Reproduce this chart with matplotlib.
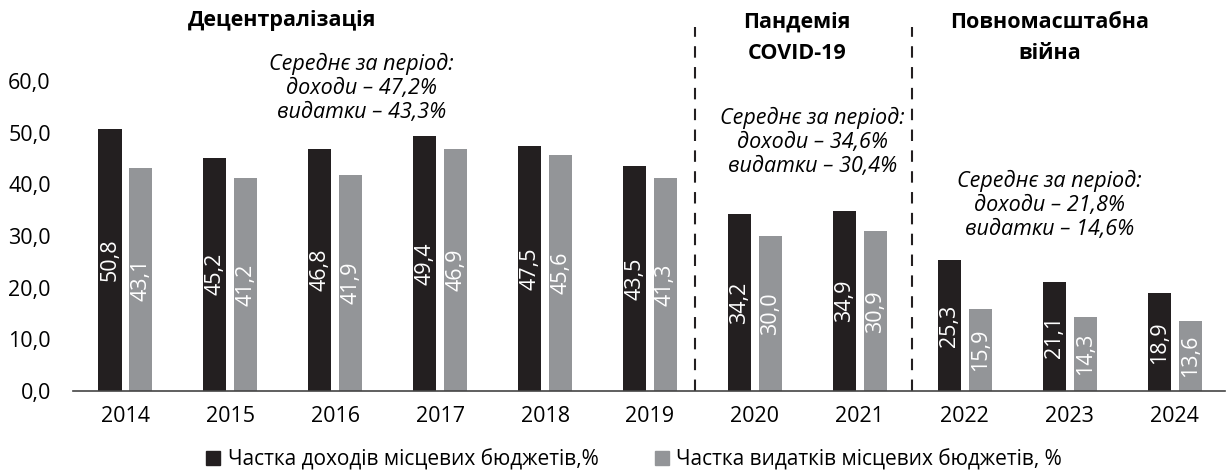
import numpy as np
import matplotlib.pyplot as plt
from matplotlib.lines import Line2D

plt.rcParams['font.family'] = ['Open Sans', 'DejaVu Sans']

years = ['2014', '2015', '2016', '2017', '2018', '2019', '2020', '2021', '2022', '2023', '2024']
revenue = [50.8, 45.2, 46.8, 49.4, 47.5, 43.5, 34.2, 34.9, 25.3, 21.1, 18.9]
spending = [43.1, 41.2, 41.9, 46.9, 45.6, 41.3, 30.0, 30.9, 15.9, 14.3, 13.6]
yticks = [0, 10, 20, 30, 40, 50, 60]

rev_name = 'Частка доходів місцевих бюджетів,%'
sp_name = 'Частка видатків місцевих бюджетів, %'
black = '#231f20'
grey = '#939598'
fs = 15.5

fig = plt.figure(figsize=(12.29, 4.72), dpi=100)
ax = fig.add_axes([73/1229, 1 - 391/472, (1225-73)/1229, 391/472])

x = np.arange(len(years))
w = 0.22
off = 0.147
b1 = ax.bar(x - off, revenue, w, color=black)
b2 = ax.bar(x + off, spending, w, color=grey)

for bars, vals in ((b1, revenue), (b2, spending)):
    for b, v in zip(bars, vals):
        ax.text(b.get_x() + b.get_width()/2, v/2, f'{v:.1f}'.replace('.', ','),
                rotation=90, ha='center', va='center', color='white', fontsize=fs)

ax.set_xlim(-0.5, 10.48)
ax.set_ylim(0, 75.7)
ax.set_xticks(x)
ax.set_xticklabels(years, fontsize=fs)
ax.set_yticks(yticks)
ax.set_yticklabels([f'{t:.1f}'.replace('.', ',') for t in yticks], fontsize=fs)
ax.tick_params(length=0)
ax.tick_params(axis='x', pad=11)
ax.tick_params(axis='y', pad=16)
for s in ['top', 'right', 'left']:
    ax.spines[s].set_visible(False)
ax.spines['bottom'].set_color('#444444')
ax.spines['bottom'].set_linewidth(1.2)

# period separators
for xv in (5.43, 7.5):
    ax.plot([xv, xv], [0, 70.5], ls=(0, (5.5, 4.5)), color=black, lw=1.5, clip_on=False)

# period titles
ax.text(1.49, 71.8, 'Децентралізація', ha='center', va='center', fontsize=fs, fontweight='bold')
ax.text(2.25, 58.7, 'Середнє за період:\nдоходи – 47,2%\nвидатки – 43,3%', ha='center', va='center',
        fontsize=fs, style='italic', linespacing=1.2)
ax.text(6.4, 68.4, 'Пандемія\nCOVID-19', ha='center', va='center', fontsize=fs,
        fontweight='bold', linespacing=1.6)
ax.text(6.55, 48.2, 'Середнє за період:\nдоходи – 34,6%\nвидатки – 30,4%', ha='center', va='center',
        fontsize=fs, style='italic', linespacing=1.2)
ax.text(8.81, 68.4, 'Повномасштабна\nвійна', ha='center', va='center', fontsize=fs,
        fontweight='bold', linespacing=1.6)
ax.text(8.81, 36.0, 'Середнє за період:\nдоходи – 21,8%\nвидатки – 14,6%', ha='center', va='center',
        fontsize=fs, style='italic', linespacing=1.2)

handles = [Line2D([], [], marker='s', ls='', color=black, markersize=9.5),
           Line2D([], [], marker='s', ls='', color=grey, markersize=9.5)]
fig.legend(handles, [rev_name, sp_name], loc='center', bbox_to_anchor=(0.515, 1 - 460/472),
           ncol=2, frameon=False, fontsize=15, handlelength=0.9, handletextpad=0.25,
           columnspacing=2.6)

fig.savefig('out.png', dpi=100)
